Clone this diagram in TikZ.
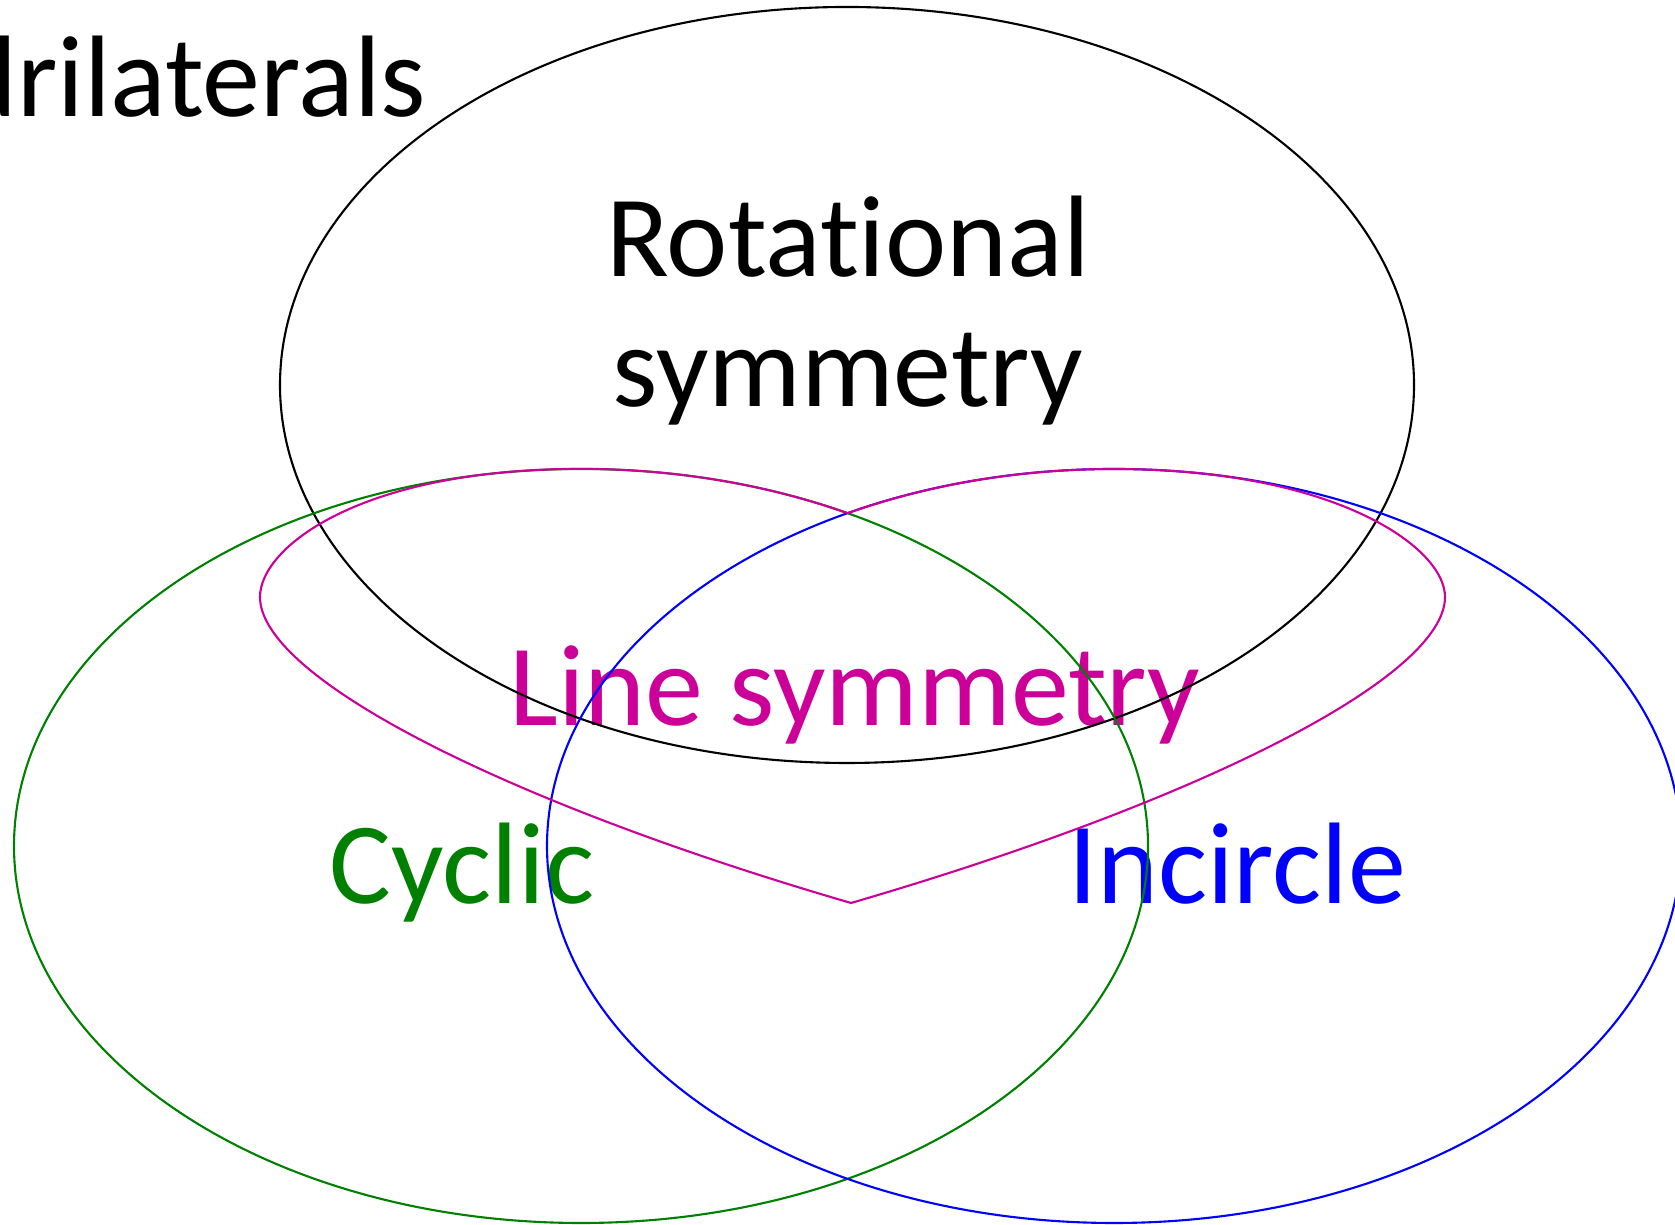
\documentclass[tikz,border=0pt]{standalone}
\usepackage{fontspec}
\setmainfont{Carlito}[Ligatures=NoCommon]
\usepackage{xcolor}
\usepackage{tikz}

\definecolor{linemag}{RGB}{204,0,153}
\definecolor{cycgreen}{RGB}{0,128,0}
\definecolor{incblue}{RGB}{0,0,255}

\begin{document}
\begin{tikzpicture}[
    set/.style={line width=0.6pt},
    lbl/.style={inner sep=0pt, font=\fontsize{33}{37}\selectfont},
]
\useasboundingbox (0,0) rectangle (16.75,12.25);

% === Labels (lines run over them) ===
\node[lbl, anchor=base east] (quad) at (4.27,11.08) {Quadrilaterals};
\node[lbl, anchor=base, align=center] (rot) at (8.48,8.18) {Rotational\\symmetry};
\node[lbl, anchor=base, text=linemag] (line) at (8.55,4.99) {Line symmetry};
\node[lbl, anchor=base, text=cycgreen] (cyc) at (4.62,3.21) {Cyclic};
\node[lbl, anchor=base, text=incblue] (inc) at (12.37,3.21) {Incircle};

% === Sets ===
\draw[set, black] (8.47,8.40) ellipse[x radius=5.67, y radius=3.78];
\draw[set, cycgreen] (5.81,3.79) ellipse[x radius=5.67, y radius=3.77];
\draw[set, incblue] (11.14,3.79) ellipse[x radius=5.67, y radius=3.77];

% === Line symmetry region ===
\draw[set, linemag] (8.47,7.12)
    arc[start angle=62, end angle=90, x radius=5.67, y radius=3.77]
    .. controls (3.61,7.56) and (2.60,6.78) .. (2.60,6.28)
    .. controls (2.60,5.48) and (5.01,4.24) .. (8.51,3.22)
    .. controls (12.01,4.24) and (14.45,5.48) .. (14.45,6.28)
    .. controls (14.45,6.78) and (13.34,7.56) .. (11.14,7.56)
    arc[start angle=90, end angle=118, x radius=5.67, y radius=3.77] -- cycle;

\end{tikzpicture}
\end{document}
